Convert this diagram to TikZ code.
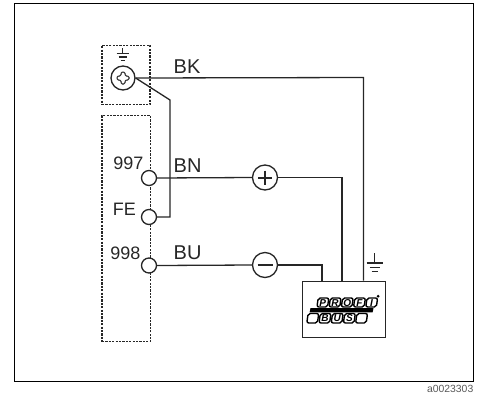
\documentclass[tikz,border=0pt]{standalone}
\usepackage{fontspec}
\setmainfont{Liberation Sans}
\usetikzlibrary{calc}
\definecolor{ink}{gray}{0.15}
\tikzset{
  frameline/.style={draw=black,line width=1.2pt},
  wire/.style={draw=ink,line width=1.3pt},
  dashbox/.style={draw=ink,line width=1.4pt,dash pattern=on 2.2pt off 1.2pt},
  term/.style={circle,draw=ink,line width=1.3pt,fill=white,minimum size=15pt,inner sep=0pt},
  bigterm/.style={circle,draw=ink,line width=1.3pt,fill=white,minimum size=25pt,inner sep=0pt},
  wirelabel/.style={anchor=base west,inner sep=0pt,text=ink,font=\fontsize{20}{20}\selectfont},
  pinlabel/.style={anchor=base east,inner sep=0pt,text=ink,font=\fontsize{18}{18}\selectfont},
  cell/.style={draw=black,line width=1.4pt,rounded corners=2pt,fill=white},
  cellletter/.style={inner sep=0pt,text=black,font=\fontsize{10}{10}\selectfont\bfseries\itshape},
}
\begin{document}
\begin{tikzpicture}[x=1pt,y=-1pt]
\useasboundingbox (0,0) rectangle (478,394);
% outer frame
\node[frameline,rectangle,minimum width=459.5pt,minimum height=378pt,inner sep=0pt,anchor=north west] (frame) at (13.7,3.2) {};
\node[anchor=base east,inner sep=0pt,text=black!65,font=\fontsize{10.4}{10.4}\selectfont] (code) at (473.5,392) {a0023303};
% dashed boxes
\node[dashbox,rectangle,minimum width=48pt,minimum height=59.5pt,inner sep=0pt,anchor=north west] (gbox) at (101.3,44.5) {};
\node[dashbox,rectangle,minimum width=48.5pt,minimum height=226pt,inner sep=0pt,anchor=north west] (tbox) at (101.3,115) {};
% device box
\node[wire,rectangle,minimum width=83.3pt,minimum height=56.3pt,inner sep=0pt,anchor=north west] (dev) at (301.7,280.7) {};
% terminals
\node[term,minimum size=24pt] (screw) at (123,78) {};
\node[term] (t997) at (149,178) {};
\node[term] (tFE) at (149,217) {};
\node[term] (t998) at (149,265.5) {};
\node[bigterm] (plus) at (265,177.5) {};
\node[bigterm] (minus) at (265,265) {};
% wire corners
\coordinate (bkc) at (363.5,77.5);
\coordinate (fec) at (170,100);
\coordinate (bnc) at (342,177.5);
\coordinate (buc) at (322,265);
% wires
\draw[wire] (screw.east) -- (bkc) -- (bkc |- dev.north);
\draw[wire] (screw.east) -- (fec) -- (fec |- tFE) -- (tFE.east);
\draw[wire] (t997.east) -- (plus.west);
\draw[wire] (plus.east) -- (bnc) -- (bnc |- dev.north);
\draw[wire] (t998.east) -- (minus.west);
\draw[wire] (minus.east) -- (buc) -- (buc |- dev.north);
% plus, minus, screw
\draw[ink,line width=2pt] ($(plus)+(-7,0)$) -- ($(plus)+(7,0)$) ($(plus)+(0,-7)$) -- ($(plus)+(0,7)$);
\draw[ink,line width=2pt] ($(minus)+(-7.5,0)$) -- ($(minus)+(7.5,0)$);
\draw[ink,line width=1pt,rounded corners=1.4pt,shift={(screw.center)}]
  (-2,-6) -- (2,-6) -- (2,-2) -- (6,-2) -- (6,2) -- (2,2) -- (2,6) -- (-2,6) -- (-2,2) -- (-6,2) -- (-6,-2) -- (-2,-2) -- cycle;
% ground symbols
\coordinate (g1) at (122.5,48);
\draw[ink,line width=1.1pt] (g1) -- ++(0,5.5) ++(-6,0) -- ++(12,0) ++(-10,3.5) -- ++(8,0) ++(-6,3.2) -- ++(4,0);
\coordinate (g2) at (374.5,253);
\draw[ink,line width=1.1pt] (g2) -- ++(0,10) ++(-8,0) -- ++(16,0) ++(-13,4.5) -- ++(10,0) ++(-8,4.2) -- ++(6,0);
% labels
\node[wirelabel] (lBK) at (173.5,73) {BK};
\node[wirelabel] (lBN) at (173.5,172.3) {BN};
\node[wirelabel] (lBU) at (173.5,259) {BU};
\node[pinlabel] (l997) at (143.5,169) {997};
\node[pinlabel] (lFE) at (136,215) {FE};
\node[pinlabel] (l998) at (140.5,259) {998};
% PROFIBUS logo
\fill[black] (310.5,308.2) -- (373.5,308.2) -- (372.6,312.4) -- (309.6,312.4) -- cycle;
\fill[black] (378.2,296.2) circle (1.5);
\begin{scope}[xslant=0.14]
  \foreach \i/\l in {0/P,1/R,2/O,3/F,4/I} {
    \path[cell] ({317.5+\i*12.2+0.14*303},298) rectangle ++(10.6,9);
    \node[cellletter] (top\i) at ({322.8+\i*12.2+0.14*302.6},302.6) {\l};
  }
  \foreach \i/\l in {0/,1/B,2/U,3/S,4/} {
    \path[cell] ({307.5+\i*12.2+0.14*318},313.5) rectangle ++(10.6,9.5);
    \node[cellletter] (bot\i) at ({312.8+\i*12.2+0.14*318},318.3) {\l};
  }
\end{scope}
\end{tikzpicture}
\end{document}
